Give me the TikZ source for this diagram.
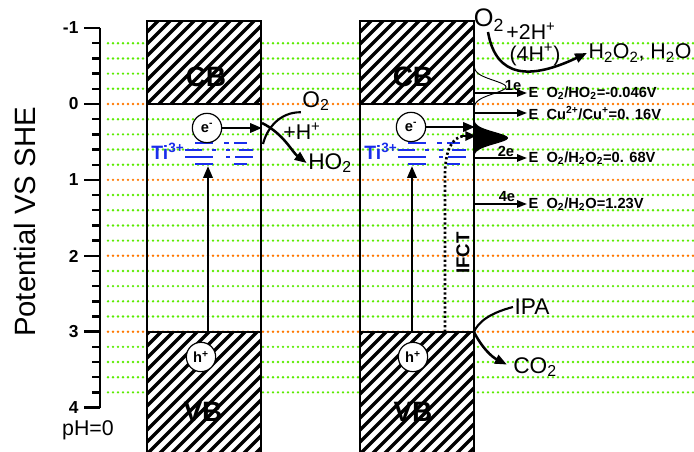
\documentclass[tikz,border=0pt]{standalone}
\usepackage{fontspec}
\setmainfont{Liberation Sans}
\usetikzlibrary{arrows.meta}
\definecolor{dotgreen}{RGB}{90,235,0}
\definecolor{dotorange}{RGB}{255,120,0}
\definecolor{tiblue}{RGB}{25,45,235}
\newcommand{\hatchbox}[4]{%
  \fill[white] (#1,#2) rectangle (#3,#4);
  \begin{scope}
    \clip (#1,#2) rectangle (#3,#4);
    \foreach \k in {-12,...,11} {
      \draw[line width=2.5pt] ({#1+\k*12},#4) -- ++(170,-170);
    }
  \end{scope}
  \draw[line width=1pt] (#1,#2) rectangle (#3,#4);
}
\begin{document}
\begin{tikzpicture}[x=0.75pt,y=-0.75pt,
  gdot/.style={line width=2pt, dash pattern=on 0pt off 3.75pt, line cap=round, draw=dotgreen},
  odot/.style={line width=2pt, dash pattern=on 0pt off 3.75pt, line cap=round, draw=dotorange},
  axisline/.style={line width=1.8pt},
  ticklab/.style={font=\bfseries\fontsize{13}{15}\selectfont, anchor=east, inner sep=1pt},
  bandlab/.style={font=\bfseries\fontsize{21}{24}\selectfont},
  circ/.style={circle, draw, line width=0.9pt, fill=white, minimum size=22pt, inner sep=0pt, font=\bfseries\fontsize{11}{12}\selectfont},
  tilab/.style={font=\bfseries\fontsize{14.5}{16}\selectfont, text=tiblue, inner sep=1pt},
  tiline/.style={draw=tiblue, line width=1.7pt},
  arr/.style={line width=1.9pt, -{Triangle[length=9pt,width=7pt]}},
  sarr/.style={line width=1.4pt, -{Triangle[length=7.5pt,width=5.5pt]}},
  curv/.style={line width=1.6pt},
  chem/.style={font=\fontsize{17}{19}\selectfont, inner sep=1pt},
  chems/.style={font=\fontsize{16}{18}\selectfont, inner sep=1pt},
  eqlab/.style={font=\bfseries\fontsize{11}{13}\selectfont, inner sep=1pt, anchor=west},
  nlab/.style={font=\bfseries\fontsize{11}{13}\selectfont, inner sep=1pt},
  boxline/.style={line width=1pt}
]
\useasboundingbox (0,0) rectangle (694,452);

% dotted energy levels
\foreach \i in {1,...,24} {
  \pgfmathsetmacro\yy{104+75.9*(-1+0.2*\i)}
  \pgfmathtruncatemacro\mm{mod(\i,5)}
  \ifnum\mm=0
    \draw[odot] (108,\yy) -- (694,\yy);
  \else
    \draw[gdot] (108,\yy) -- (694,\yy);
  \fi
}

% axis
\draw[axisline] (100,28) -- (100,408);
\foreach \v in {-1,0,1,2,3,4} {
  \pgfmathsetmacro\yy{104+75.9*\v}
  \draw[axisline] (84,\yy) -- (100,\yy);
}
\foreach \i in {1,...,24} {
  \pgfmathsetmacro\yy{104+75.9*(-1+0.2*\i)}
  \draw[axisline] (92,\yy) -- (100,\yy);
}
\node[ticklab] (tm1) at (80,28) {-1};
\node[ticklab] (t0) at (80,104) {0};
\node[ticklab] (t1) at (80,180) {1};
\node[ticklab] (t2) at (80,256) {2};
\node[ticklab] (t3) at (80,332) {3};
\node[ticklab] (t4) at (80,408) {4};
\node[font=\fontsize{16}{18}\selectfont] (ph) at (88,430) {pH=0};
\node[rotate=90, font=\fontsize{22}{26}\selectfont] (ylab) at (25,222) {Potential VS SHE};

% boxes
\draw[boxline] (147,21) -- (147,453);
\draw[boxline] (261,21) -- (261,453);
\draw[boxline] (360,21) -- (360,453);
\draw[boxline] (474,21) -- (474,453);
\hatchbox{147}{21}{261}{104}
\hatchbox{147}{332}{261}{454}
\hatchbox{360}{21}{474}{104}
\hatchbox{360}{332}{474}{454}
\node[bandlab] (cb1) at (206,77) {CB};
\node[bandlab] (vb1) at (203,412) {VB};
\node[bandlab] (cb2) at (413,77) {CB};
\node[bandlab] (vb2) at (413,412) {VB};

% Ti3+ levels
\foreach \dx in {0,213} {
  \draw[tiline] (195+\dx,143) -- (213+\dx,143);
  \draw[tiline] (224+\dx,143) -- (229+\dx,143);
  \draw[tiline] (234+\dx,143) -- (247+\dx,143);
  \draw[tiline] (185+\dx,150) -- (202+\dx,150);
  \draw[tiline] (212+\dx,150) -- (216+\dx,150);
  \draw[tiline] (226+\dx,150) -- (230+\dx,150);
  \draw[tiline] (239+\dx,150) -- (253+\dx,150);
  \draw[tiline] (185+\dx,157) -- (213+\dx,157);
  \draw[tiline] (226+\dx,157) -- (230+\dx,157);
  \draw[tiline] (235+\dx,157) -- (253+\dx,157);
  \draw[tiline] (195+\dx,164) -- (213+\dx,164);
  \draw[tiline] (234+\dx,164) -- (247+\dx,164);
}
\node[tilab, anchor=east] (ti1) at (186,151) {Ti\textsuperscript{3+}};
\node[tilab, anchor=east] (ti2) at (399,151) {Ti\textsuperscript{3+}};

% panel 1 processes
\node[circ] (e1) at (207,128) {e\textsuperscript{-}};
\node[circ] (h1) at (201,357) {h\textsuperscript{+}};
\coordinate (v1a) at (208,332);
\coordinate (v1b) at (208,166);
\draw[arr] (v1a) -- (v1b);
\coordinate (x1) at (262,128);
\draw[arr] (e1.east) -- (x1);
\node[chem] (o2a) at (316,101) {O\textsubscript{2}};
\node[chems] (hp1) at (302,131) {+H\textsuperscript{+}};
\node[chem] (ho2) at (330,163) {HO\textsubscript{2}};
\coordinate (k1) at (263,144);
\coordinate (k2) at (262,123);
\draw[curv] (o2a.south west) .. controls (280,112) and (267,128) .. (k1);
\draw[arr] (k2) .. controls (284,134) and (292,152) .. (ho2.west);

% panel 2 processes
\node[circ] (e2) at (411,127) {e\textsuperscript{-}};
\node[circ] (h2) at (413,357) {h\textsuperscript{+}};
\coordinate (v2a) at (412,332);
\coordinate (v2b) at (412,166);
\draw[arr] (v2a) -- (v2b);
\coordinate (x2) at (475,127);
\draw[arr] (e2.east) -- (x2);
\coordinate (f0) at (445,332);
\coordinate (f1) at (445,176);
\coordinate (f2) at (476,136);
\draw[line width=2pt, dash pattern=on 1.7pt off 1.8pt] (f0) -- (f1) .. controls (445,150) and (452,137) .. (464,136);
\draw[line width=1.6pt, -{Triangle[length=8pt,width=7pt]}] (462,136) -- (f2);
\node[rotate=90, font=\bfseries\fontsize{14}{16}\selectfont] (ifct) at (463,253) {IFCT};

% density of states
\fill plot[domain=116:164, samples=60, variable=\t] ({474+34*exp(-((\t-138)/8.5)^2)}, \t) -- cycle;
\draw[line width=0.7pt] plot[domain=56:114, samples=60, variable=\t] ({474+32*exp(-((\t-87)/9.5)^2)}, \t);

% redox potentials
\node[eqlab] (r1) at (527,93) {E\ \ O\textsubscript{2}/HO\textsubscript{2}=-0.046V};
\node[eqlab] (r2) at (527,113) {E\ \ Cu\textsuperscript{2+}/Cu\textsuperscript{+}=0. 16V};
\node[eqlab] (r3) at (527,158) {E\ \ O\textsubscript{2}/H\textsubscript{2}O\textsubscript{2}=0. 68V};
\node[eqlab] (r4) at (527,204) {E\ \ O\textsubscript{2}/H\textsubscript{2}O=1.23V};
\coordinate (s1) at (474,93);
\coordinate (s2) at (474,113);
\coordinate (s3) at (474,158);
\coordinate (s4) at (474,204);
\draw[sarr] (s1) -- (r1.west);
\draw[sarr] (s2) -- (r2.west);
\draw[sarr] (s3) -- (r3.west);
\draw[sarr] (s4) -- (r4.west);
\node[nlab] (n1) at (513,86) {1e};
\node[nlab] (n2) at (506,151) {2e};
\node[nlab] (n4) at (507,197) {4e};

% top reaction
\node[font=\fontsize{19}{21}\selectfont, inner sep=0pt] (o2t) at (489,20) {O\textsubscript{2}};
\node[chems] (hp2) at (531,31) {+2H\textsuperscript{+}};
\node[chems] (hp4) at (535,55) {(4H\textsuperscript{+})};
\node[chems, anchor=west] (h2o2) at (587,53) {H\textsubscript{2}O\textsubscript{2}, H\textsubscript{2}O};
\coordinate (o2s) at (488,32);
\draw[arr] (o2s) .. controls (496,78) and (530,80) .. (h2o2.west);

% IPA oxidation
\node[chem] (ipa) at (532,307) {IPA};
\node[chem] (co2) at (535,367) {CO\textsubscript{2}};
\coordinate (vc) at (474,332);
\draw[curv] (ipa.west) .. controls (490,313) and (478,322) .. (vc);
\draw[arr, shorten >=4pt] (vc) .. controls (482,348) and (492,357) .. (co2.west);
\end{tikzpicture}
\end{document}
